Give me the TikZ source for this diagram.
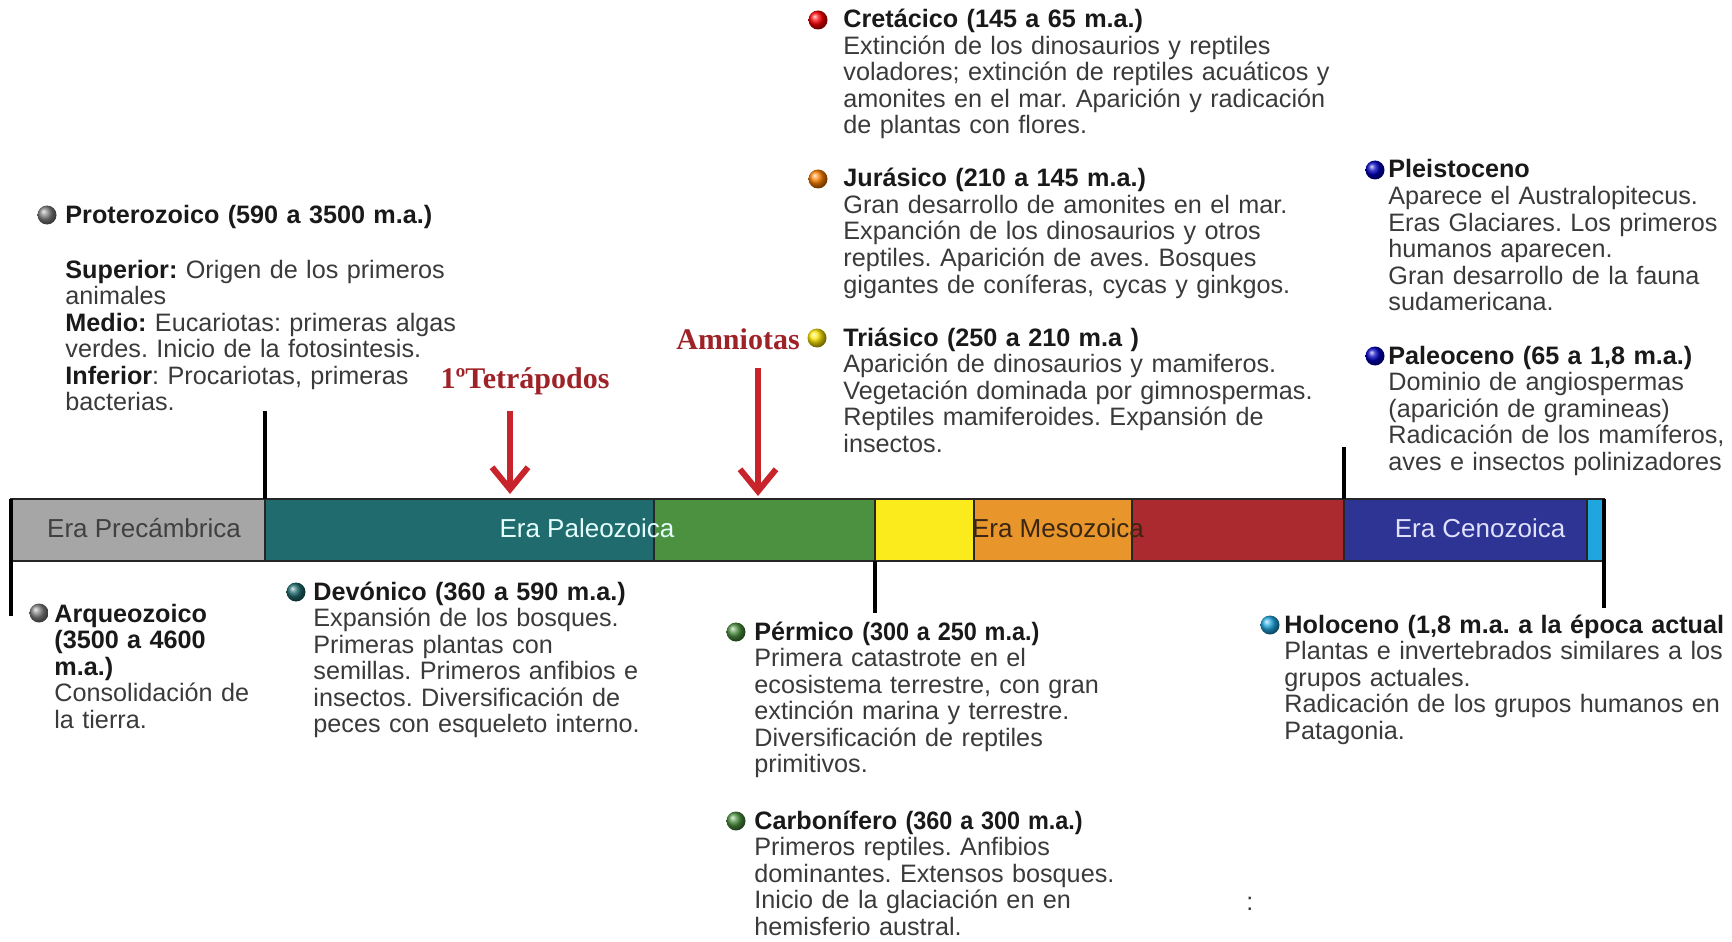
\documentclass[tikz,border=0pt]{standalone}
\usepackage{fontspec}
\usepackage{graphicx}
\setmainfont{Liberation Sans}
\newfontfamily\hintfont{Liberation Serif}
\usetikzlibrary{arrows.meta,shapes,positioning}
\frenchspacing

\definecolor{precam}{HTML}{A6A6A6}
\definecolor{devon}{HTML}{1F6B6E}
\definecolor{carbon}{HTML}{4C9140}
\definecolor{trias}{HTML}{FCEB1C}
\definecolor{juras}{HTML}{E8952B}
\definecolor{cretac}{HTML}{AA2A2F}
\definecolor{cenoz}{HTML}{2D3494}
\definecolor{holoc}{HTML}{1FA6DF}
\definecolor{hintred}{HTML}{9E2328}
\definecolor{arrowred}{HTML}{C8242B}
\definecolor{bodygray}{HTML}{3A3A3A}

\newcommand{\bodyfont}{\fontsize{12.6}{13.25}\selectfont}
\newcommand{\erafont}{\fontsize{13}{15}\selectfont}
\newcommand{\ttl}[1]{\textbf{\color{black!90}#1}}
\newcommand{\narrow}[1]{\scalebox{0.93}[1]{#1}}

\tikzstyle{dot}=[circle,minimum size=9.5pt,inner sep=0pt]
\tikzstyle{info}=[anchor=base west,inner sep=0pt,text width=300pt,align=left,font=\bodyfont,text=bodygray]
\tikzstyle{segment}=[draw=black!85,line width=1pt]
\tikzstyle{era}=[font=\erafont,inner sep=0pt]
\tikzstyle{tick}=[draw,line width=1.6pt]
\tikzstyle{hint}=[font=\hintfont\bfseries\fontsize{15}{17}\selectfont,text=hintred,inner sep=0pt]
\tikzstyle{pointer}=[draw=arrowred,line width=3pt,-{Straight Barb[length=11pt,width=18pt]}]

\begin{document}
\begin{tikzpicture}[x=0.5pt,y=-0.5pt]
\useasboundingbox (0,0) rectangle (1732,941);

% First we draw the time bar
\foreach \xa/\xb/\col in {11/265/precam,265/654/devon,654/875/carbon,875/974/trias,
974/1132/juras,1132/1344/cretac,1344/1587/cenoz,1587/1604/holoc}
\path[segment,fill=\col] (\xa,499) rectangle (\xb,561);

\node[era,text=black!75] (precam) at (144,528) {Era Precámbrica};
\node[era,text=green!10!cyan!10] (paleo) at (587,528) {Era Paleozoica};
\node[era,text=black!70!brown] (meso) at (1058,528) {Era Mesozoica};
\node[era,text=blue!12] (ceno) at (1480,528) {Era Cenozoica};

% Ticks above and below the bar
\foreach \x/\ya/\yb in {265/411/499,875/561/613,1344/447/499}
\path[tick] (\x,\ya) -- (\x,\yb);
\foreach \x/\ya/\yb in {11/499/616,1604/499/608}
\path[tick,line width=2.4pt] (\x,\ya) -- (\x,\yb);

% Red hints
\node[hint] (tetra) at (525,381) {1ºTetrápodos};
\node[hint] (amnio) at (738,339) {Amniotas};
\coordinate (tetratip) at (510,494);
\coordinate (amniotip) at (758,496);
\draw[pointer,shorten <=8pt] (tetra.south -| tetratip) -- (tetratip);
\draw[pointer,shorten <=9pt] (amnio.south -| amniotip) -- (amniotip);

% Now the periods
\node[dot,ball color=gray] (bprot) at (47,215) {};
\node[info] (prot) at (65,223) {\ttl{Proterozoico (590 a 3500 m.a.)}};
\node[info] (protbody) at (65,278) {\ttl{Superior:} Origen de los primeros\\animales\\
\ttl{Medio:} Eucariotas: primeras algas\\verdes. Inicio de la fotosintesis.\\
\ttl{Inferior}: Procariotas, primeras\\bacterias.};

\node[dot,ball color=red] (bcret) at (818,20) {};
\node[info] (cret) at (843,28) {\ttl{Cretácico (145 a 65 m.a.)}\\
Extinción de los dinosaurios y reptiles\\voladores; extinción de reptiles acuáticos y\\
amonites en el mar. Aparición y radicación\\de plantas con flores.};

\node[dot,ball color=orange] (bjur) at (818,179) {};
\node[info] (jur) at (843,187) {\ttl{Jurásico (210 a 145 m.a.)}\\
Gran desarrollo de amonites en el mar.\\Expanción de los dinosaurios y otros\\
reptiles. Aparición de aves. Bosques\\gigantes de coníferas, cycas y ginkgos.};

\node[dot,ball color=yellow!80!orange] (btri) at (817,338) {};
\node[info] (tri) at (843,346) {\ttl{Triásico (250 a 210 m.a )}\\
Aparición de dinosaurios y mamiferos.\\Vegetación dominada por gimnospermas.\\
Reptiles mamiferoides. Expansión de\\insectos.};

\node[dot,ball color=blue!75!black] (bplei) at (1375,170) {};
\node[info] (plei) at (1388,178) {\ttl{Pleistoceno}\\
Aparece el Australopitecus.\\Eras Glaciares. Los primeros\\humanos aparecen.\\
Gran desarrollo de la fauna\\sudamericana.};

\node[dot,ball color=blue!75!black] (bpale) at (1375,356) {};
\node[info] (pale) at (1388,364) {\ttl{Paleoceno (65 a 1,8 m.a.)}\\
Dominio de angiospermas\\(aparición de gramineas)\\Radicación de los mamíferos,\\
aves e insectos polinizadores};

\node[dot,ball color=gray] (barq) at (39,613) {};
\node[info] (arq) at (54,622) {\ttl{Arqueozoico}\\\ttl{(3500 a 4600}\\\ttl{m.a.)}\\
Consolidación de\\la tierra.};

\node[dot,ball color=devon] (bdev) at (296,592) {};
\node[info] (dev) at (313,600) {\ttl{Devónico (360 a 590 m.a.)}\\
Expansión de los bosques.\\Primeras plantas con\\semillas. Primeros anfibios e\\
insectos. Diversificación de\\peces con esqueleto interno.};

\node[dot,ball color=carbon] (bper) at (736,632) {};
\node[info] (per) at (754,640) {\ttl{Pérmico \narrow{(300 a 250 m.a.)}}\\
Primera catastrote en el\\ecosistema terrestre, con gran\\extinción marina y terrestre.\\
Diversificación de reptiles\\primitivos.};

\node[dot,ball color=carbon] (bcar) at (736,821) {};
\node[info] (car) at (754,829) {\ttl{Carbonífero \narrow{(360 a 300 m.a.)}}\\
Primeros reptiles. Anfibios\\dominantes. Extensos bosques.\\Inicio de la glaciación en en\\
hemisferio austral.};

\node[dot,ball color=holoc] (bhol) at (1270,625) {};
\node[info] (hol) at (1284,633) {\ttl{Holoceno (1,8 m.a. a la época actual}\\
Plantas e invertebrados similares a los\\grupos actuales.\\
Radicación de los grupos humanos en\\Patagonia.};

\node[info] (colon) at (1246,910) {:};

\end{tikzpicture}
\end{document}
